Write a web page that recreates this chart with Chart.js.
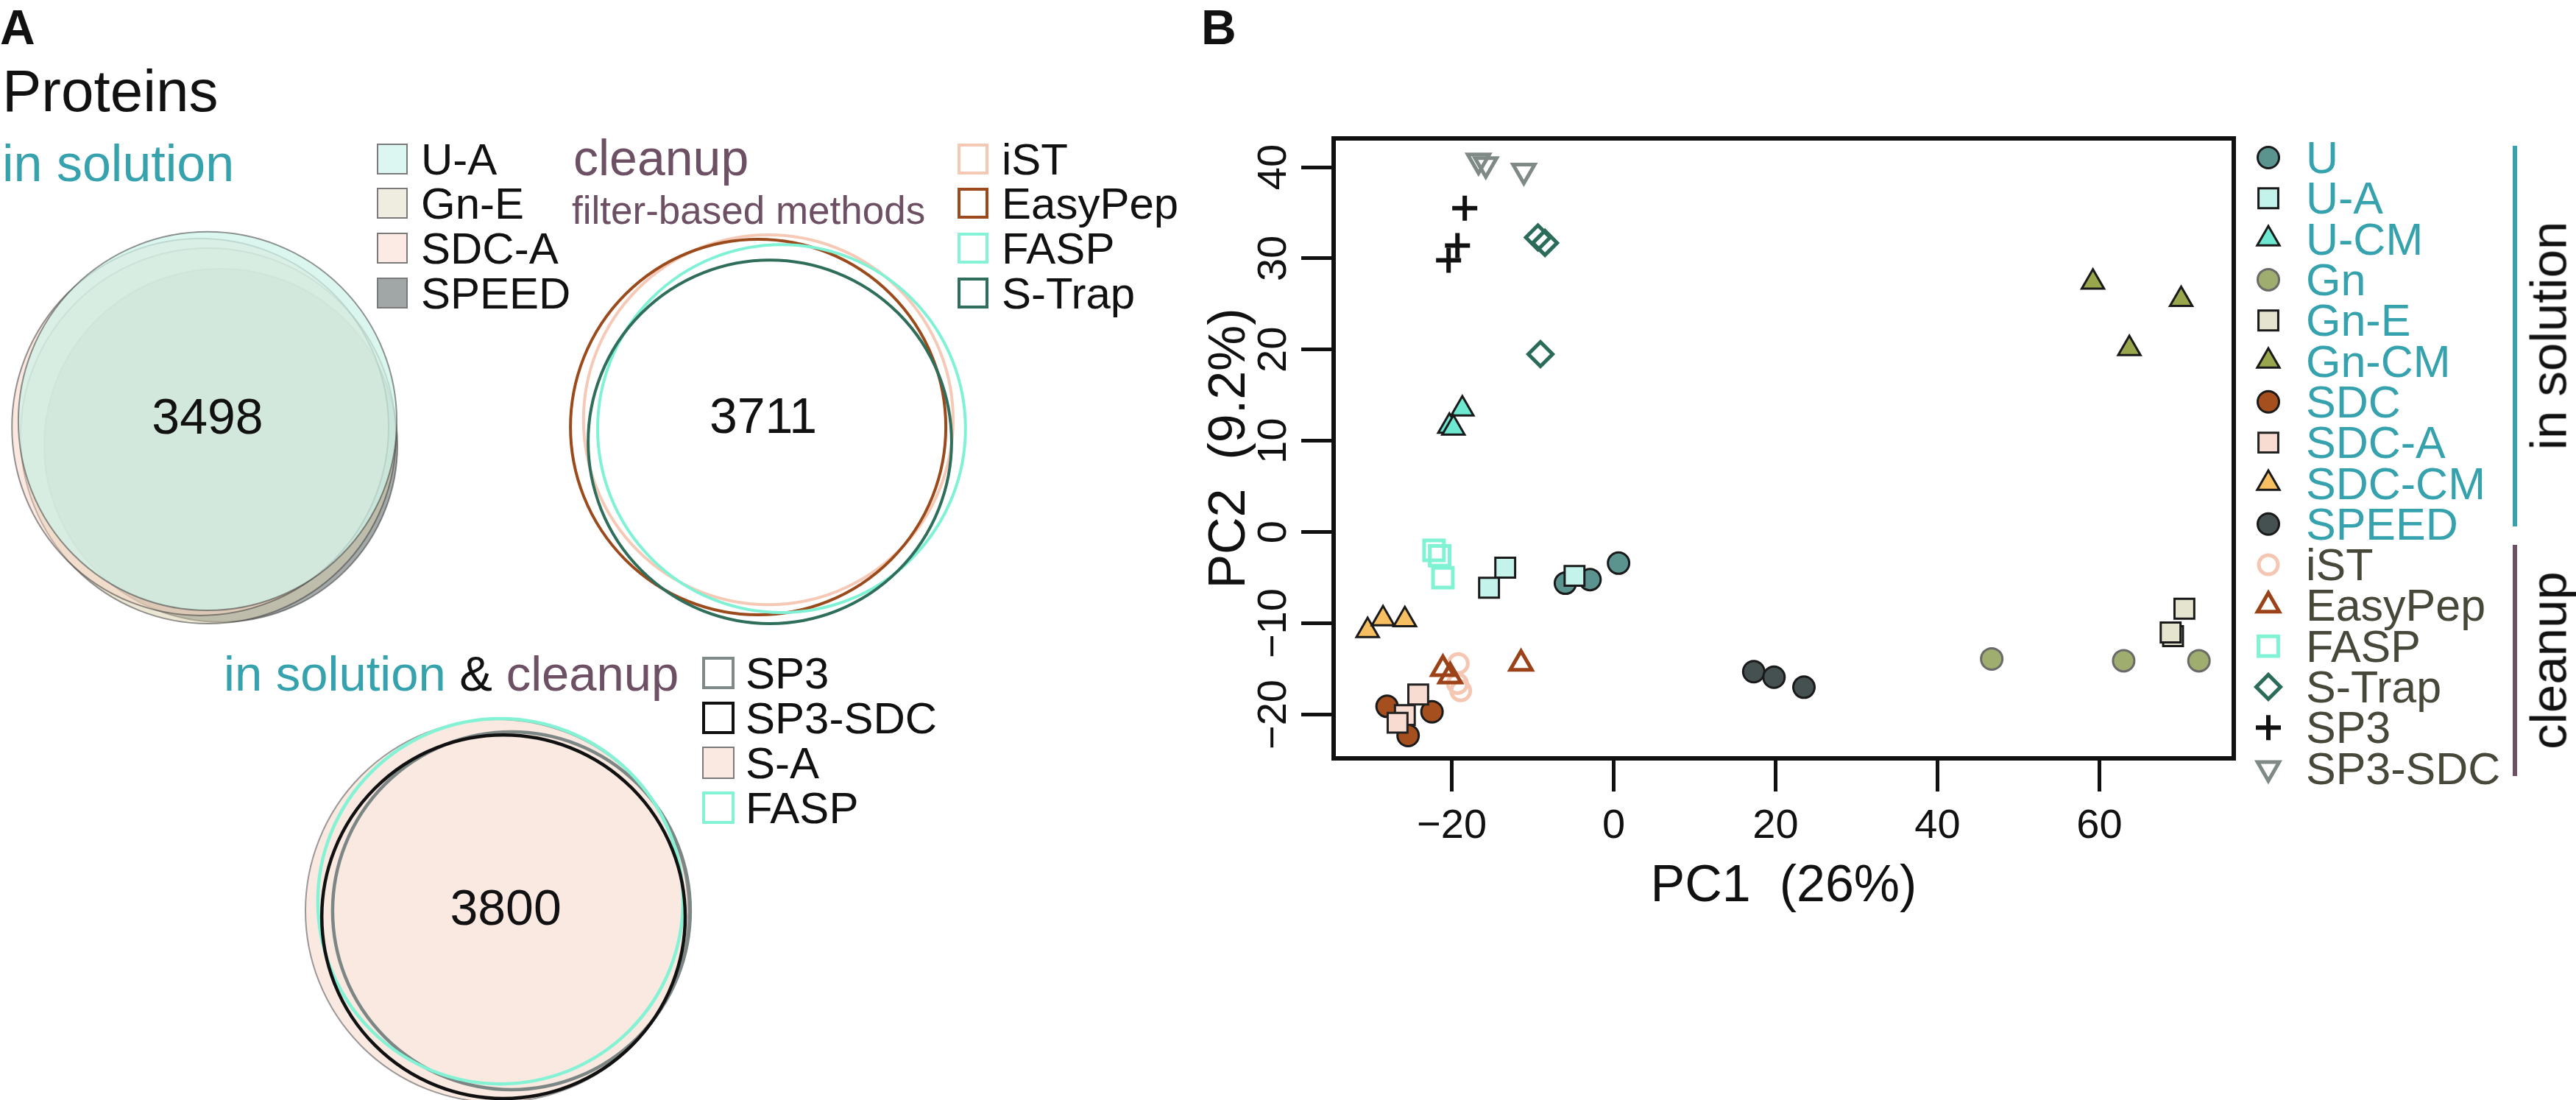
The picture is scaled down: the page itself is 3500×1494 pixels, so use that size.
<!DOCTYPE html>
<html>
<head>
<meta charset="utf-8">
<script src="https://cdn.jsdelivr.net/npm/chart.js@4.4.1/dist/chart.umd.min.js"></script>
<style>
  html, body { margin: 0; padding: 0; background: #fff; }
  body { width: 3500px; height: 1494px; position: relative; overflow: hidden;
         font-family: "Liberation Sans", Arial, Helvetica, sans-serif; }
  canvas { position: absolute; }
  .lbl { position: absolute; white-space: pre; line-height: 1; }
  .sw { position: absolute; box-sizing: border-box; }
  .bar { position: absolute; width: 6px; }
</style>
</head>
<body>
<canvas id="venn1" width="600" height="600" style="left:-18px;top:280px"></canvas>
<canvas id="venn2" width="600" height="600" style="left:740px;top:283px"></canvas>
<canvas id="venn3" width="600" height="600" style="left:385px;top:937px"></canvas>
<canvas id="pca" width="1900" height="1150" style="left:1600px;top:100px"></canvas>
<div id="notes"></div>
<script>
// ---------- panel B : PCA scores (3 replicates per method) ----------
const pcaMethods = ['U', 'U-A', 'U-CM', 'Gn', 'Gn-E', 'Gn-CM', 'SDC', 'SDC-A', 'SDC-CM', 'SPEED',
                    'iST', 'EasyPep', 'FASP', 'S-Trap', 'SP3', 'SP3-SDC'];
const pc1 = [
  [-5.97, -2.93, 0.6],      // U
  [-13.4, -15.4, -4.84],    // U-A
  [-18.7, -20.3, -19.8],    // U-CM
  [46.7, 63.0, 72.3],       // Gn
  [70.5, 69.1, 68.8],       // Gn-E
  [59.2, 63.7, 70.1],       // Gn-CM
  [-28.0, -22.45, -25.4],   // SDC
  [-24.15, -25.8, -26.7],   // SDC-A
  [-30.4, -28.5, -25.8],    // SDC-CM
  [17.3, 19.8, 23.5],       // SPEED
  [-19.2, -19.3, -18.9],    // iST
  [-21.1, -20.2, -11.45],   // EasyPep
  [-22.2, -21.5, -21.1],    // FASP
  [-9.36, -8.49, -9.05],    // S-Trap
  [-18.4, -19.3, -20.4],    // SP3
  [-16.7, -15.8, -11.1]     // SP3-SDC
];
const pc2 = [
  [-5.6, -5.2, -3.4],
  [-3.9, -6.1, -4.8],
  [13.5, 11.6, 11.4],
  [-13.9, -14.1, -14.1],
  [-8.4, -11.4, -11.0],
  [27.4, 20.1, 25.5],
  [-19.1, -19.7, -22.3],
  [-17.8, -20.05, -20.9],
  [-10.8, -9.5, -9.6],
  [-15.3, -15.9, -17.0],
  [-14.4, -16.6, -17.4],
  [-15.0, -15.8, -14.4],
  [-2.0, -2.6, -5.0],
  [32.3, 31.7, 19.5],
  [35.5, 31.4, 29.8],
  [40.7, 40.3, 39.6]
];
const xTicks = [-20, 0, 20, 40, 60];
const yTicks = [-20, -10, 0, 10, 20, 30, 40];
const xRange = [-34.6, 76.6];
const yRange = [-24.8, 43.15];

// marker styles (R pch look-alikes)
const markShape = ['circle', 'rect', 'triangle', 'circle', 'rect', 'triangle', 'circle', 'rect', 'triangle', 'circle',
                   'circle', 'triangle', 'rect', 'rectRot', 'cross', 'triangle'];
const markRot = [0, 0, 0, 0, 0, 0, 0, 0, 0, 0, 0, 0, 0, 0, 0, 180];
const markSize = [14.5, 19, 17.5, 14.5, 19, 17.5, 14.5, 19, 17.5, 14.5, 13, 17, 19, 16.5, 17, 17];
const markFill = ['#5b938f', '#c4f3ec', '#6ee8d0', '#9fae6f', '#e4e4cf', '#9aa64b', '#a54f1e', '#f9dcd1', '#f7be62', '#455050',
                  'rgba(0,0,0,0)', 'rgba(0,0,0,0)', 'rgba(0,0,0,0)', 'rgba(0,0,0,0)', 'rgba(0,0,0,0)', 'rgba(0,0,0,0)'];
const markEdge = ['#1a1a1a', '#1a1a1a', '#1a1a1a', '#6a6a6a', '#1a1a1a', '#1a1a1a', '#1a1a1a', '#222', '#1a1a1a', '#1a1a1a',
                  '#f5c7b3', '#9b4219', '#80f3d4', '#2b6b59', '#111', '#7f8a87'];
const markLw = [3, 3, 3, 3, 3, 3, 3, 3, 3, 3, 5, 5, 5, 5, 6, 5];

// ---------- panel A : Venn diagrams (units: diagram radius ~ 1) ----------
const venn1Sets = ['SPEED', 'Gn-E', 'SDC-A', 'U-A'];
const venn1Dx = [0.06, 0.003, -0.033, 0];
const venn1Dy = [-0.083, -0.04, 0, 0.027];
const venn1R = [0.8, 0.85, 0.853, 0.857];
const venn1Count = 3498;

const venn2Sets = ['iST', 'EasyPep', 'FASP', 'S-Trap'];
const venn2Dx = [0.013, -0.033, 0.073, 0.02];
const venn2Dy = [0.043, 0.01, 0.003, -0.057];
const venn2R = [0.837, 0.85, 0.833, 0.823];
const venn2Count = 3711;

const venn3Sets = ['S-A', 'SP3', 'FASP', 'SP3-SDC'];
const venn3Dx = [-0.033, 0.033, -0.017, -0.003];
const venn3Dy = [0, 0, 0.043, -0.027];
const venn3R = [0.867, 0.81, 0.827, 0.823];
const venn3Count = 3800;

const TEAL = '#36a2ad';
const MAUVE = '#6d5063';
const FONT = '"Liberation Sans", Arial, Helvetica, sans-serif';
Chart.defaults.font.family = FONT;

function fmt(v) { return v < 0 ? '\u2212' + Math.abs(v) : String(v); }

// ---------- venn charts ----------
function drawVenn(id, dx, dy, r, fill, edge, lw, count, lx, ly) {
  new Chart(document.getElementById(id), {
    type: 'scatter',
    data: {
      datasets: [{
        data: dx.map((v, i) => ({ x: v, y: dy[i] })),
        pointRadius: ctx => {
          const s = ctx.chart.scales.x;
          return s.getPixelForValue(r[ctx.dataIndex || 0]) - s.getPixelForValue(0);
        },
        pointBackgroundColor: fill,
        pointBorderColor: edge,
        pointBorderWidth: lw,
        clip: false
      }]
    },
    options: {
      responsive: false, animation: false, events: [],
      layout: { autoPadding: false, padding: 0 },
      plugins: { legend: { display: false }, tooltip: { enabled: false } },
      scales: {
        x: { type: 'linear', min: -1, max: 1, display: false },
        y: { type: 'linear', min: -1, max: 1, display: false }
      }
    },
    plugins: [{
      id: 'vennCount',
      afterDatasetsDraw(chart) {
        const { ctx, scales: { x, y } } = chart;
        ctx.save();
        ctx.fillStyle = '#111';
        ctx.font = '68px ' + FONT;
        ctx.textAlign = 'center';
        ctx.textBaseline = 'middle';
        ctx.fillText(String(count), x.getPixelForValue(lx), y.getPixelForValue(ly));
        ctx.restore();
      }
    }]
  });
}

drawVenn('venn1', venn1Dx, venn1Dy, venn1R,
  ['rgba(124,132,131,0.7)', 'rgba(217,207,171,0.5)', 'rgba(247,211,195,0.5)', 'rgba(206,243,234,0.74)'],
  'rgba(60,60,60,0.55)', 2, venn1Count, 0, 0.033);
drawVenn('venn2', venn2Dx, venn2Dy, venn2R,
  'rgba(0,0,0,0)', ['#f5c9b5', '#9b4a1c', '#7ff2d5', '#2e6e5b'], 4, venn2Count, -0.01, 0.047);
drawVenn('venn3', venn3Dx, venn3Dy, venn3R,
  ['#fae9e1', 'rgba(0,0,0,0)', 'rgba(0,0,0,0)', 'rgba(0,0,0,0)'],
  ['rgba(90,90,90,0.6)', '#7c8785', '#84f2d4', '#111'], [2, 4.5, 4.5, 4.5], venn3Count, 0.007, 0);

// ---------- PCA chart ----------
const legendX = 1482, legendTop = 114, legendStep = 55.3;

const frameAndLabels = {
  id: 'frameAndLabels',
  beforeDatasetsDraw(chart) {
    const { ctx, chartArea: a } = chart;
    ctx.save();
    ctx.strokeStyle = '#111';
    ctx.lineWidth = 6;
    ctx.lineJoin = 'miter';
    ctx.strokeRect(a.left, a.top, a.right - a.left, a.bottom - a.top);
    ctx.restore();
  },
  afterDraw(chart) {
    const { ctx, chartArea: a, scales: { x, y } } = chart;
    ctx.save();
    ctx.fillStyle = '#111';
    ctx.font = '56px ' + FONT;
    ctx.textAlign = 'center';
    ctx.textBaseline = 'middle';
    x.ticks.forEach(t => ctx.fillText(fmt(t.value), x.getPixelForValue(t.value), a.bottom + 93));
    y.ticks.forEach(t => {
      ctx.save();
      ctx.translate(a.left - 80, y.getPixelForValue(t.value));
      ctx.rotate(-Math.PI / 2);
      ctx.fillText(fmt(t.value), 0, 0);
      ctx.restore();
    });
    // legend symbols, same styling as the datasets
    chart.data.datasets.forEach((ds, i) => {
      ctx.save();
      ctx.fillStyle = ds.pointBackgroundColor;
      ctx.strokeStyle = ds.pointBorderColor;
      ctx.lineWidth = ds.pointBorderWidth;
      Chart.helpers.drawPoint(ctx, {
        pointStyle: ds.pointStyle, rotation: ds.pointRotation,
        radius: ds.pointRadius, borderWidth: ds.pointBorderWidth
      }, legendX, legendTop + i * legendStep);
      ctx.restore();
    });
    ctx.restore();
  }
};

new Chart(document.getElementById('pca'), {
  type: 'scatter',
  data: {
    datasets: pcaMethods.map((m, i) => ({
      label: m,
      data: pc1[i].map((v, j) => ({ x: v, y: pc2[i][j] })),
      pointStyle: markShape[i],
      pointRotation: markRot[i],
      pointRadius: markSize[i],
      pointBackgroundColor: markFill[i],
      pointBorderColor: markEdge[i],
      pointBorderWidth: markLw[i],
      order: -i,
      clip: false
    }))
  },
  options: {
    responsive: false, animation: false, events: [],
    layout: { autoPadding: false, padding: { left: 0, top: 88, right: 465, bottom: 0 } },
    plugins: { legend: { display: false }, tooltip: { enabled: false } },
    scales: {
      x: {
        type: 'linear', min: xRange[0], max: xRange[1],
        afterBuildTicks: s => { s.ticks = xTicks.map(v => ({ value: v })); },
        afterFit: s => { s.height = 220; },
        ticks: { display: false },
        grid: { drawOnChartArea: false, drawTicks: true, tickLength: 45, tickWidth: 5, tickColor: '#111' },
        border: { display: false },
        title: { display: true, text: 'PC1  (26%)', color: '#111', font: { size: 70 }, padding: { top: 0, bottom: 3 } }
      },
      y: {
        type: 'linear', min: yRange[0], max: yRange[1],
        afterBuildTicks: s => { s.ticks = yTicks.map(v => ({ value: v })); },
        afterFit: s => { s.width = 212; },
        ticks: { display: false },
        grid: { drawOnChartArea: false, drawTicks: true, tickLength: 44, tickWidth: 5, tickColor: '#111' },
        border: { display: false },
        title: { display: true, text: 'PC2  (9.2%)', color: '#111', font: { size: 70 }, padding: { top: 30, bottom: 0 } }
      }
    }
  },
  plugins: [frameAndLabels]
});

// ---------- text, legends and group bars ----------
const notes = document.getElementById('notes');
function note(html, x, base, size, color, extra) {
  const d = document.createElement('div');
  d.className = 'lbl';
  d.innerHTML = html;
  d.style.left = x + 'px';
  d.style.top = (base - 0.8465 * size) + 'px';
  d.style.fontSize = size + 'px';
  d.style.color = color || '#111';
  if (extra) Object.assign(d.style, extra);
  notes.appendChild(d);
}
function vnote(text, cx, cy, size, color) {
  const d = document.createElement('div');
  d.className = 'lbl';
  d.textContent = text;
  d.style.left = cx + 'px';
  d.style.top = cy + 'px';
  d.style.fontSize = size + 'px';
  d.style.color = color;
  d.style.transform = 'translate(-50%,-50%) rotate(-90deg)';
  notes.appendChild(d);
}
function swatch(x, cy, size, fill, edge, w) {
  const d = document.createElement('div');
  d.className = 'sw';
  d.style.left = x + 'px';
  d.style.top = (cy - size / 2) + 'px';
  d.style.width = size + 'px';
  d.style.height = size + 'px';
  d.style.background = fill;
  d.style.border = w + 'px solid ' + edge;
  notes.appendChild(d);
}
function bar(x, y0, y1, color) {
  const d = document.createElement('div');
  d.className = 'bar';
  d.style.left = x + 'px';
  d.style.top = y0 + 'px';
  d.style.height = (y1 - y0) + 'px';
  d.style.background = color;
  notes.appendChild(d);
}

// panel A
note('A', 0, 60, 66, '#111', { fontWeight: 'bold' });
note('Proteins', 3, 152, 80);
note('in solution', 3, 246, 70, TEAL);
const rowsTop = [216, 276, 337, 398];
const leg1Names = ['U-A', 'Gn-E', 'SDC-A', 'SPEED'];
const leg1Fill = ['#dcf6f1', '#eeede0', '#fbebe4', '#a1a7a7'];
leg1Names.forEach((n, i) => {
  swatch(512, rowsTop[i], 42, leg1Fill[i], '#7a7a7a', 2);
  note(n, 572, rowsTop[i] + 21.5, 60);
});
note('cleanup', 779, 238, 68, MAUVE);
note('filter-based methods', 777, 304, 53, MAUVE);
const leg2Names = ['iST', 'EasyPep', 'FASP', 'S-Trap'];
const leg2Edge = ['#f5c8b3', '#9c4a1d', '#86f3d6', '#2f6e5c'];
leg2Names.forEach((n, i) => {
  swatch(1301, rowsTop[i], 42, '#fff', leg2Edge[i], 4);
  note(n, 1361, rowsTop[i] + 21.5, 60);
});
note('<span style="color:' + TEAL + '">in solution</span> &amp; <span style="color:' + MAUVE + '">cleanup</span>',
  304, 938, 67);
const rowsBottom = [914, 975, 1036, 1097];
const leg3Names = ['SP3', 'SP3-SDC', 'S-A', 'FASP'];
const leg3Fill = ['#fff', '#fff', '#fae9e1', '#fff'];
const leg3Edge = ['#7f8a88', '#111', '#7a7a7a', '#84f2d4'];
const leg3W = [4, 4, 2, 4];
leg3Names.forEach((n, i) => {
  swatch(954, rowsBottom[i], 44, leg3Fill[i], leg3Edge[i], leg3W[i]);
  note(n, 1013, rowsBottom[i] + 21.5, 60);
});

// panel B
note('B', 1632, 60, 66, '#111', { fontWeight: 'bold' });
pcaMethods.forEach((m, i) => {
  const cy = 100 + legendTop + i * legendStep;
  note(m, 3133, cy + 21.8, 61, i < 10 ? TEAL : '#47473a');
});
bar(3414, 198, 715, TEAL);
bar(3414, 740, 1054, MAUVE);
vnote('in solution', 3463, 456, 69, '#111');
vnote('cleanup', 3463, 897, 69, '#111');
</script>
</body>
</html>
